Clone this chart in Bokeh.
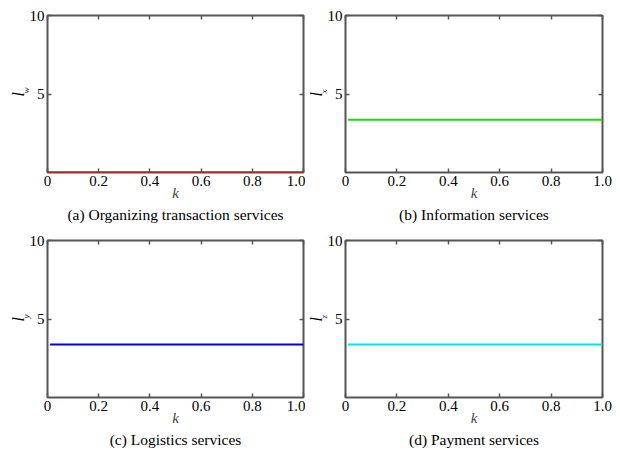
from bokeh.plotting import figure
from bokeh.models import Range1d, LinearAxis, FixedTicker, Title
from bokeh.layouts import column, row
from bokeh.embed import file_html
from bokeh.resources import INLINE

# ---- data ----
k_a = [0.0, 0.1, 0.2, 0.3, 0.4, 0.5, 0.6, 0.7, 0.8, 0.9, 1.0]
k_bcd = [0.01, 0.1, 0.2, 0.3, 0.4, 0.5, 0.6, 0.7, 0.8, 0.9, 1.0]
l_w = [0.0, 0.0, 0.0, 0.0, 0.0, 0.0, 0.0, 0.0, 0.0, 0.0, 0.0]
l_x = [3.36, 3.36, 3.36, 3.36, 3.36, 3.36, 3.36, 3.36, 3.36, 3.36, 3.36]
l_y = [3.38, 3.38, 3.38, 3.38, 3.38, 3.38, 3.38, 3.38, 3.38, 3.38, 3.38]
l_z = [3.38, 3.38, 3.38, 3.38, 3.38, 3.38, 3.38, 3.38, 3.38, 3.38, 3.38]

x_ticks = [0.0, 0.2, 0.4, 0.6, 0.8, 1.0]
x_tick_labels = ["0", "0.2", "0.4", "0.6", "0.8", "1.0"]
y_ticks = [5, 10]
y_tick_labels = ["5", "10"]

captions = ["(a) Organizing transaction services", "(b) Information services",
            "(c) Logistics services", "(d) Payment services"]
subs = ["w", "x", "y", "z"]
colors = ["#e00000", "#10e010", "#0000e0", "#00e8e8"]

FONT = "Liberation Serif"
FRAME = "#555555"


def style_axis(ax, ticks, labels, show_labels=True):
    ax.ticker = FixedTicker(ticks=ticks)
    ax.axis_line_color = None
    ax.major_tick_in = 4
    ax.major_tick_out = 0
    ax.major_tick_line_color = FRAME
    ax.major_tick_line_width = 1.5
    ax.minor_tick_line_color = None
    ax.major_label_text_font = FONT
    ax.major_label_text_color = "black"
    ax.major_label_text_font_size = "15px"
    if show_labels:
        ax.major_label_overrides = {t: s for t, s in zip(ticks, labels)}
        ax.major_label_standoff = 3
    else:
        ax.major_label_overrides = {t: "" for t in ticks}
        ax.major_label_standoff = 0


def make_panel(xs, ys, color, sub, caption, width, height, bl, br, bt, bb):
    p = figure(width=width, height=height, x_range=Range1d(0, 1), y_range=Range1d(0, 10),
               output_backend="svg", toolbar_location=None,
               min_border_left=bl, min_border_right=br, min_border_top=bt, min_border_bottom=bb,
               background_fill_color="white", border_fill_color="white")
    p.grid.visible = False
    p.outline_line_color = FRAME
    p.outline_line_width = 2
    style_axis(p.xaxis[0], x_ticks, x_tick_labels)
    style_axis(p.yaxis[0], y_ticks, y_tick_labels)
    p.xaxis[0].axis_label = "k"
    p.xaxis[0].axis_label_text_font = FONT
    p.xaxis[0].axis_label_text_font_style = "italic"
    p.xaxis[0].axis_label_text_font_size = "15px"
    p.xaxis[0].axis_label_standoff = -4
    top = LinearAxis()
    style_axis(top, x_ticks, x_tick_labels, show_labels=False)
    right = LinearAxis()
    style_axis(right, y_ticks, y_tick_labels, show_labels=False)
    p.add_layout(top, "above")
    p.add_layout(right, "right")

    p.line(xs, ys, line_color=color, line_width=2)

    p.add_layout(Title(text=caption, align="center", text_font=FONT, text_font_size="15.5px",
                       text_font_style="normal", text_color="black", standoff=0), "below")

    # y-axis label: italic l with a small subscript
    p.add_layout(Title(text=sub, align="left", offset=79, vertical_align="bottom",
                       text_font=FONT, text_font_size="9px", text_font_style="italic",
                       text_color="black", standoff=-9), "left")
    p.add_layout(Title(text="l", align="left", offset=76, vertical_align="bottom",
                       text_font=FONT, text_font_size="16px", text_font_style="italic",
                       text_color="black", standoff=-7), "left")
    return p


pa = make_panel(k_a, l_w, colors[0], subs[0], captions[0], 305, 230, 47, 2, 15, 58)
pb = make_panel(k_bcd, l_x, colors[1], subs[1], captions[1], 307, 230, 40, 10, 15, 58)
pc = make_panel(k_bcd, l_y, colors[2], subs[2], captions[2], 305, 218, 47, 2, 10, 51)
pd = make_panel(k_bcd, l_z, colors[3], subs[3], captions[3], 307, 218, 40, 10, 10, 51)

layout = column(row(pa, pb), row(pc, pd))

open("out.html", "w").write(file_html(layout, INLINE))
